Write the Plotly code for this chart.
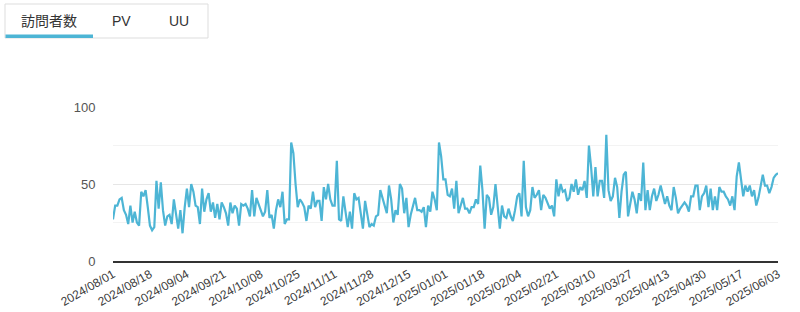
import pandas as pd
import plotly.graph_objects as go

start_date = "2024-08-01"
visitors = [
    27,36,36,40,41,33,30,24,36,25, 32,25,23,45,42,46,35,23,20,22,
    52,34,51,33,23,29,30,24,40,29, 21,33,18,35,47,35,50,45,36,35,
    24,47,32,40,44,32,38,28,37,27, 38,35,31,23,38,31,36,34,23,37,
    36,
    37,34,29,46,29,41,37,33,29,32, 46,28,30,21,33,40,35,45,24,27,
    27,77,70,50,35,40,38,35,26,36, 34,45,35,39,39,26,48,40,50,40,
    36,36,65,27,26,42,32,22,32,21, 44,40,41,29,21,39,31,22,24,23,
    29,
    30,46,41,37,31,49,40,25,33,30, 50,47,31,41,22,30,36,41,33,33,
    32,35,22,36,32,45,40,33,77,68, 53,53,43,42,47,34,52,31,36,41,
    34,34,31,35,35,40,37,62,46,21, 43,41,30,35,50,36,21,36,29,28,
    34,
    29,26,33,42,44,29,65,35,29,33, 48,41,43,46,33,43,41,37,34,36,
    29,53,42,50,45,46,39,41,50,45, 53,43,48,46,52,41,75,61,42,61,
    42,52,52,41,82,46,39,42,54,48, 28,45,56,58,29,37,45,40,31,44,
    39,
    64,33,46,33,42,47,39,43,49,42, 37,42,36,33,48,41,31,34,36,38,
    36,32,42,42,49,49,33,42,44,49, 35,47,33,42,33,48,45,45,42,40,
    36,42,33,55,64,53,42,49,45,49, 42,46,36,41,50,56,49,49,44,48,
    54,56,57,
]
tick_labels = [
    "2024/08/01","2024/08/18","2024/09/04","2024/09/21","2024/10/08",
    "2024/10/25","2024/11/11","2024/11/28","2024/12/15","2025/01/01",
    "2025/01/18","2025/02/04","2025/02/21","2025/03/10","2025/03/27",
    "2025/04/13","2025/04/30","2025/05/17","2025/06/03",
]
tabs = ["訪問者数", "PV", "UU"]
y_ticks = [0, 50, 100]

dates = pd.date_range(start_date, periods=len(visitors), freq="D").strftime("%Y/%m/%d").tolist()

LINE = "#4db5d5"
fig = go.Figure()
fig.add_trace(go.Scatter(x=dates, y=visitors, mode="lines",
                         line=dict(color=LINE, width=2.2), hoverinfo="x+y"))

# plot area in pixels: x 113..778, y 107..261
L, R, T, B = 113, 778, 107, 261
W, H = R - L, B - T
def px(x):
    return (x - L) / W
def py(y):
    return (B - y) / H

shapes = [
    dict(type="rect", xref="paper", yref="paper", x0=px(5), x1=px(208), y0=py(38), y1=py(4),
         line=dict(color="#dddddd", width=1), fillcolor="rgba(0,0,0,0)", layer="above"),
    dict(type="rect", xref="paper", yref="paper", x0=px(5.5), x1=px(93), y0=py(38), y1=py(34.5),
         line=dict(width=0), fillcolor=LINE, layer="above"),
]
annotations = []
for name, cx in zip(tabs, [49, 121, 179]):
    annotations.append(dict(text=name, xref="paper", yref="paper", x=px(cx), y=py(21),
                            xanchor="center", yanchor="middle", showarrow=False,
                            font=dict(size=14, color="#333333",
                                      family="Liberation Sans, Noto Sans CJK JP, sans-serif")))

fig.update_layout(
    width=800, height=312,
    margin=dict(l=L, r=800 - R, t=T, b=312 - B, pad=0),
    paper_bgcolor="white", plot_bgcolor="white",
    showlegend=False,
    shapes=shapes, annotations=annotations,
    font=dict(family="Liberation Sans, Arial, sans-serif", size=12, color="#333333"),
    xaxis=dict(type="category", range=[0, len(visitors) - 1],
               tickmode="array", tickvals=tick_labels, ticktext=tick_labels,
               tickangle=-30, showgrid=False, showline=True, linecolor="#333333",
               linewidth=1.5, ticks="", tickfont=dict(size=12, color="#3a3a3a"),
               zeroline=False, automargin=False),
    yaxis=dict(range=[0, 100], tickvals=y_ticks, showgrid=True, gridcolor="#e6e6e6",
               gridwidth=1, zeroline=False, showline=False,
               ticks="outside", ticklen=14, tickcolor="rgba(0,0,0,0)",
               tickfont=dict(size=13, color="#555555"),
               minor=dict(tickvals=[25, 75], showgrid=True, gridcolor="#f3f3f3", gridwidth=1),
               automargin=False),
)
fig.write_html("out.html")
